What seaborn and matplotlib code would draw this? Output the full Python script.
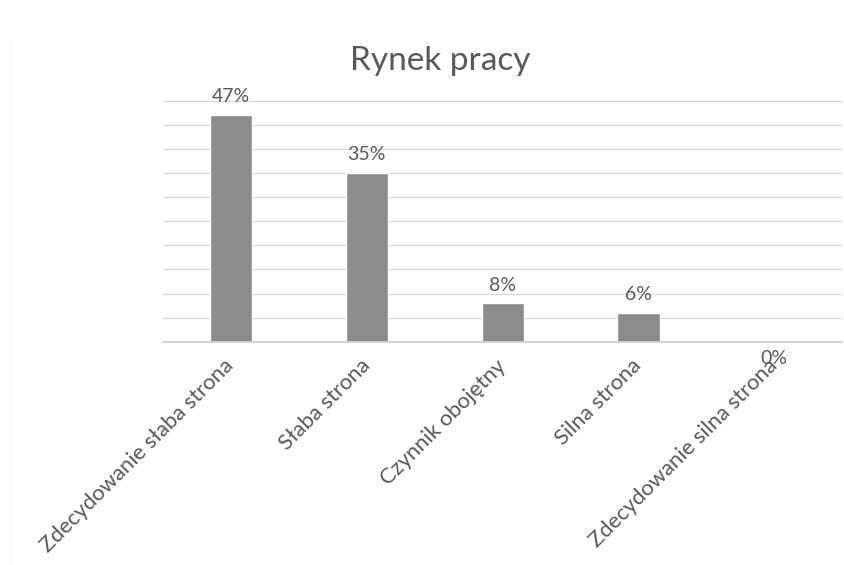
import matplotlib.pyplot as plt
import pandas as pd
import seaborn as sns

categories = [
    "Zdecydowanie słaba strona",
    "Słaba strona",
    "Czynnik obojętny",
    "Silna strona",
    "Zdecydowanie silna strona",
]
shares = [47, 35, 8, 6, 0]
title = "Rynek pracy"

TEXT_GREY = "#595959"
BAR_GREY = "#8c8c8c"

sns.set_theme(style="white")
plt.rcParams["font.family"] = ["Lato", "DejaVu Sans"]

data = pd.DataFrame({"category": categories, "share": shares})

fig = plt.figure(figsize=(8.44, 5.65), dpi=100)
ax = fig.add_axes([0.193, 0.395, 0.805, 0.427])

sns.barplot(data=data, x="category", y="share", color=BAR_GREY,
            width=0.31, saturation=1, ax=ax)

ax.set_ylim(0, 50)
ax.set_xlim(-0.5, len(categories) - 0.5)
ax.set_yticks(range(5, 51, 5))
ax.yaxis.grid(True, color="#dadada", linewidth=0.9)
ax.set_axisbelow(True)
ax.tick_params(axis="y", left=False, labelleft=False)
ax.tick_params(axis="x", bottom=False, pad=9)
for side in ["top", "right", "left"]:
    ax.spines[side].set_visible(False)
ax.spines["bottom"].set_color("#d0d0d0")
ax.set_xlabel("")
ax.set_ylabel("")

for lbl in ax.get_xticklabels():
    lbl.set_rotation(45)
    lbl.set_ha("right")
    lbl.set_va("center")
    lbl.set_rotation_mode("anchor")
    lbl.set_fontsize(15.8)
    lbl.set_color(TEXT_GREY)

# value labels; Excel dropped the 0% label just under the axis line
for i, v in enumerate(shares):
    if v > 0:
        ax.annotate(f"{v}%", (i, v), xytext=(0, 7), textcoords="offset points",
                    ha="center", va="bottom", fontsize=14, color=TEXT_GREY)
    else:
        ax.annotate(f"{v}%", (i, v), xytext=(0, -6), textcoords="offset points",
                    ha="center", va="top", fontsize=14, color=TEXT_GREY)

fig.text(0.522, 0.892, title, ha="center", va="center", fontsize=24,
         color=TEXT_GREY)

# faint frame edge from the scanned page
fig.add_artist(plt.Line2D([0.012, 0.012], [0.0, 0.93], color="#e6e6e6",
                          linewidth=0.8, linestyle=":", transform=fig.transFigure))

fig.savefig("out.png", dpi=100)
